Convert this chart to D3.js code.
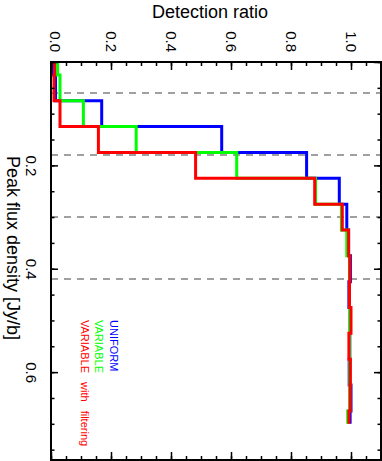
<!DOCTYPE html>
<html>
<head>
<meta charset="utf-8">
<script src="https://cdn.jsdelivr.net/npm/d3@7"></script>
<style>
    body { margin: 0; background: #fff; }
    svg { display: block; font-family: 'Liberation Sans', Arial, sans-serif; }
</style>
</head>
<body>
<script>
// values (flux bins go down the page, ratio goes across)
const fluxBins = [0, 0.05, 0.10, 0.15, 0.20, 0.25, 0.30, 0.35, 0.40, 0.45, 0.50, 0.55, 0.60, 0.65, 0.70]
const uniformRatio = [0.007, 0.015, 0.169, 0.569, 0.852, 0.961, 0.986, 0.992, 0.998, 0.993, 0.997, 0.996, 0.994, 1.000, 0.997]
const variableRatio = [0.022, 0.030, 0.108, 0.284, 0.619, 0.882, 0.968, 0.986, 0.995, 0.995, 0.996, 0.995, 0.996, 0.996, 0.989]
const filteredRatio = [0.012, 0.010, 0.030, 0.158, 0.482, 0.879, 0.971, 0.992, 0.996, 0.995, 1.000, 0.993, 0.998, 0.997, 0.993]
const noiseLevels = [0.06, 0.18, 0.30, 0.42]
const ratioTicks = [0, 0.2, 0.4, 0.6, 0.8, 1.0]
const fluxTicks = [0.2, 0.4, 0.6]
const seriesNames = ['UNIFORM', 'VARIABLE', 'VARIABLE with filtering']
const seriesColors = ['#0000ff', '#00ff00', '#ff0000']

// measurements
const m = {
    width: 382,
    height: 461,
    left: 51,
    right: 381,
    top: 62,
    bottom: 460
}

const svg = d3.select('body').append('svg')
    .attr('width', m.width)
    .attr('height', m.height)

const xScale = d3.scaleLinear().domain([0, 1.1]).range([m.left, m.right])
const yScale = d3.scaleLinear().domain([0, 0.77]).range([m.top, m.bottom])

// dashed reference levels
svg.selectAll('line.level')
    .data(noiseLevels)
    .join('line')
    .attr('class', 'level')
    .attr('x1', m.left)
    .attr('x2', m.right)
    .attr('y1', d => yScale(d))
    .attr('y2', d => yScale(d))
    .attr('stroke', '#a0a0a0')
    .attr('stroke-width', 2)
    .attr('stroke-dasharray', '7,6')

// histogram steps: curveStep steps along x, so build the path with
// flux on x and ratio on y, then swap the two axes with a matrix
const step = d3.line()
    .x(d => yScale(d[0]))
    .y(d => xScale(d[1]))
    .curve(d3.curveStep)

const seriesValues = [uniformRatio, variableRatio, filteredRatio]
seriesValues.forEach((vals, i) => {
    svg.append('path')
        .datum(fluxBins.map((f, j) => [f, vals[j]]))
        .attr('d', step)
        .attr('transform', 'matrix(0,1,1,0,0,0)')
        .attr('fill', 'none')
        .attr('stroke', seriesColors[i])
        .attr('stroke-width', 3)
})

// axes, ticks pointing inwards like IDL
const minorRatio = d3.range(0, 1.1001, 0.05)
const minorFlux = d3.range(0, 0.7701, 0.05)

function styleAxis(g) {
    g.select('.domain').remove()
    g.attr('font-family', null).attr('font-size', 15)
    g.selectAll('line').attr('stroke', '#000').attr('stroke-width', 1.5)
}

// top: ratio with rotated labels
svg.append('g')
    .attr('transform', `translate(0,${m.top})`)
    .call(d3.axisTop(xScale).tickValues(minorRatio).tickSize(-4).tickFormat(''))
    .call(styleAxis)
const topAxis = svg.append('g')
    .attr('transform', `translate(0,${m.top})`)
    .call(d3.axisTop(xScale).tickValues(ratioTicks).tickSize(-8).tickFormat(d3.format('.1f')))
    .call(styleAxis)
topAxis.selectAll('text')
    .attr('y', null)
    .attr('dy', '0.35em')
    .attr('text-anchor', 'end')
    .attr('fill', '#000')
    .attr('transform', d => `translate(${d === 0 ? 4 : 0},-10) rotate(90)`)

// bottom: ticks only
svg.append('g')
    .attr('transform', `translate(0,${m.bottom})`)
    .call(d3.axisBottom(xScale).tickValues(minorRatio).tickSize(-4).tickFormat(''))
    .call(styleAxis)
svg.append('g')
    .attr('transform', `translate(0,${m.bottom})`)
    .call(d3.axisBottom(xScale).tickValues(ratioTicks).tickSize(-8).tickFormat(''))
    .call(styleAxis)

// left: flux with rotated labels
svg.append('g')
    .attr('transform', `translate(${m.left},0)`)
    .call(d3.axisLeft(yScale).tickValues(minorFlux).tickSize(-3.5).tickFormat(''))
    .call(styleAxis)
const leftAxis = svg.append('g')
    .attr('transform', `translate(${m.left},0)`)
    .call(d3.axisLeft(yScale).tickValues([0].concat(fluxTicks)).tickSize(-7).tickFormat(d => d === 0 ? '' : d3.format('.1f')(d)))
    .call(styleAxis)
leftAxis.selectAll('text')
    .attr('x', null)
    .attr('dy', null)
    .attr('text-anchor', 'middle')
    .attr('fill', '#000')
    .attr('transform', 'translate(-25.5,0) rotate(90)')

// right: ticks only
svg.append('g')
    .attr('transform', `translate(${m.right},0)`)
    .call(d3.axisRight(yScale).tickValues(minorFlux).tickSize(-3.5).tickFormat(''))
    .call(styleAxis)
svg.append('g')
    .attr('transform', `translate(${m.right},0)`)
    .call(d3.axisRight(yScale).tickValues([0].concat(fluxTicks)).tickSize(-7).tickFormat(''))
    .call(styleAxis)

// frame
svg.append('rect')
    .attr('x', m.left)
    .attr('y', m.top)
    .attr('width', m.right - m.left)
    .attr('height', m.bottom - m.top)
    .attr('fill', 'none')
    .attr('stroke', '#000')
    .attr('stroke-width', 2)

// titles
svg.append('text')
    .attr('x', 210)
    .attr('y', 18)
    .attr('text-anchor', 'middle')
    .attr('font-size', 18)
    .text('Detection ratio')

svg.append('text')
    .attr('transform', 'translate(6.5,248) rotate(90)')
    .attr('text-anchor', 'middle')
    .attr('font-size', 18)
    .text('Peak flux density [Jy/b]')

// legend, rotated like the rest of the figure
const legendX = [110, 95, 81]
svg.selectAll('text.legend')
    .data(seriesNames)
    .join('text')
    .attr('class', 'legend')
    .attr('transform', (d, i) => `translate(${legendX[i]},320) rotate(90)`)
    .attr('font-size', 11)
    .attr('word-spacing', 6)
    .attr('fill', (d, i) => seriesColors[i])
    .text(d => d)
</script>
</body>
</html>
